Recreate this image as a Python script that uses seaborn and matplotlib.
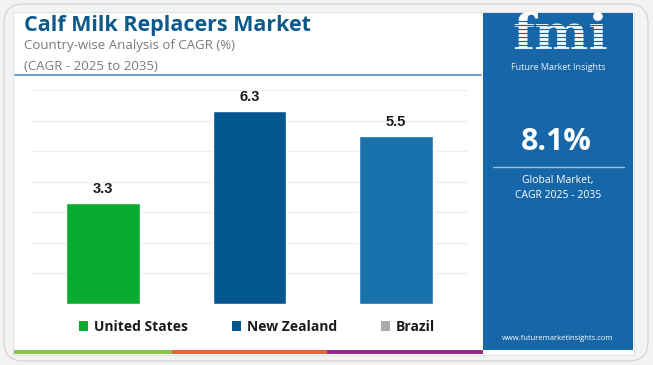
import matplotlib
matplotlib.use("Agg")
import matplotlib.pyplot as plt
import seaborn as sns
import pandas as pd
from matplotlib.patches import FancyBboxPatch, Rectangle, Patch
from matplotlib.lines import Line2D

countries = ["United States", "New Zealand", "Brazil"]
cagr = [3.3, 6.3, 5.5]
bar_colors = ["#0aab2e", "#04568f", "#1a72ad"]
legend_colors = ["#0aab2e", "#04568f", "#aaaaaa"]
title = "Calf Milk Replacers Market"
subtitle1 = "Country-wise Analysis of CAGR (%)"
subtitle2 = "(CAGR - 2025 to 2035)"
global_cagr = "8.1%"
global_label = "Global Market,\nCAGR 2025 - 2035"
website = "www.futuremarketinsights.com"

sns.set_theme(style="white")
plt.rcParams['font.family'] = ['Open Sans', 'DejaVu Sans']

W, H = 653, 365
fig = plt.figure(figsize=(W / 100, H / 100), dpi=100)
fig.patch.set_facecolor("#f3f3f3")

def px(x, y):
    return x / W, 1 - y / H

def rect_px(x0, y0, x1, y1, **kw):
    r = Rectangle((x0 / W, 1 - y1 / H), (x1 - x0) / W, (y1 - y0) / H,
                  transform=fig.transFigure, zorder=-5, **kw)
    fig.add_artist(r)
    return r

# outer rounded card
card = FancyBboxPatch((4 / W, 1 - 361 / H), 644 / W, 357 / H,
                      boxstyle="round,pad=0,rounding_size=0.03",
                      transform=fig.transFigure, facecolor="#f3f3f3",
                      edgecolor="#d6d6d6", linewidth=1.0, mutation_aspect=W / H,
                      zorder=-10)
fig.add_artist(card)
rect_px(13, 12, 634, 355, facecolor="white", edgecolor="#e2e2e2", linewidth=0.8)

# right blue panel
rect_px(483, 13, 633, 350, facecolor="#1766a8", edgecolor="none")

# bottom colored strip
rect_px(14, 350, 172, 354, facecolor="#8bc34a", edgecolor="none")
rect_px(172, 350, 327, 354, facecolor="#e8623a", edgecolor="none")
rect_px(327, 350, 483, 354, facecolor="#8e2c8e", edgecolor="none")

# title area
fig.text(*px(24, 25), title, fontsize=15.5, fontweight="bold", color="#0d5a8a",
         va="center", ha="left")
fig.text(*px(24, 46), subtitle1, fontsize=9.5, color="#7a7a7a", va="center", ha="left")
fig.text(*px(24, 66), subtitle2, fontsize=9.5, color="#7a7a7a", va="center", ha="left")
fig.add_artist(Line2D([15 / W, 481 / W], [1 - 75 / H, 1 - 75 / H],
                      transform=fig.transFigure, color="#4a8cc0", linewidth=1.2))

# bar chart
ax = fig.add_axes([31 / W, 1 - 304 / H, (468 - 31) / W, (304 - 90) / H])
ax.set_zorder(5)
df = pd.DataFrame({"country": countries, "cagr": cagr})
sns.barplot(data=df, x="country", y="cagr", hue="country", palette=bar_colors,
            width=0.5, legend=False, ax=ax, saturation=1)
ax.set_xlim(-0.49, 2.49)
ax.set_ylim(0, 7)
ax.set_yticks(range(0, 8))
ax.yaxis.grid(True, color="#efefef", linewidth=1)
ax.set_axisbelow(True)
ax.set_xticks([])
ax.set_yticklabels([])
ax.tick_params(left=False, bottom=False)
ax.set_xlabel("")
ax.set_ylabel("")
for s in ax.spines.values():
    s.set_visible(False)
ax.set_facecolor("none")
ax.patch.set_visible(False)
for c in ax.containers:
    ax.bar_label(c, fmt="%.1f", padding=5, fontsize=10.5, fontweight="bold",
                 color="#1a1a1a", family=["Liberation Sans", "DejaVu Sans"])

# legend
handles = [Patch(facecolor=col, edgecolor="none", label=lab)
           for lab, col in zip(countries, legend_colors)]
leg = fig.legend(handles=handles, loc="center", bbox_to_anchor=(px(257, 327)),
                 ncol=3, frameon=False, fontsize=10, handlelength=0.7,
                 handleheight=0.7, handletextpad=0.4, columnspacing=3.15)
for t in leg.get_texts():
    t.set_fontweight("bold")
    t.set_color("#1a1a1a")

# fmi logo approximation
fig.text(*px(560, 37), "fmi", fontsize=37, fontweight="bold", color="white",
         family=["DejaVu Serif"], ha="center", va="center", zorder=3)
for yy in range(21, 56, 4):
    fig.add_artist(Line2D([510 / W, 612 / W], [1 - yy / H, 1 - yy / H],
                          transform=fig.transFigure, color="#1766a8",
                          linewidth=0.9, zorder=4))
fig.text(*px(558, 68), "Future Market Insights", fontsize=6.5, color="#e6eef6",
         ha="center", va="center")

fig.text(*px(556, 142), global_cagr, fontsize=22, fontweight="bold", color="white",
         ha="center", va="center")
fig.add_artist(Line2D([493 / W, 624 / W], [1 - 167 / H, 1 - 167 / H],
                      transform=fig.transFigure, color="#9cc0e0", linewidth=1))
fig.text(*px(558, 188), global_label, fontsize=7.5, color="white",
         ha="center", va="center", linespacing=1.5)
fig.text(*px(558, 338), website, fontsize=5.5, color="white", ha="center", va="center")

fig.savefig("out.png", dpi=100, facecolor=fig.get_facecolor())
